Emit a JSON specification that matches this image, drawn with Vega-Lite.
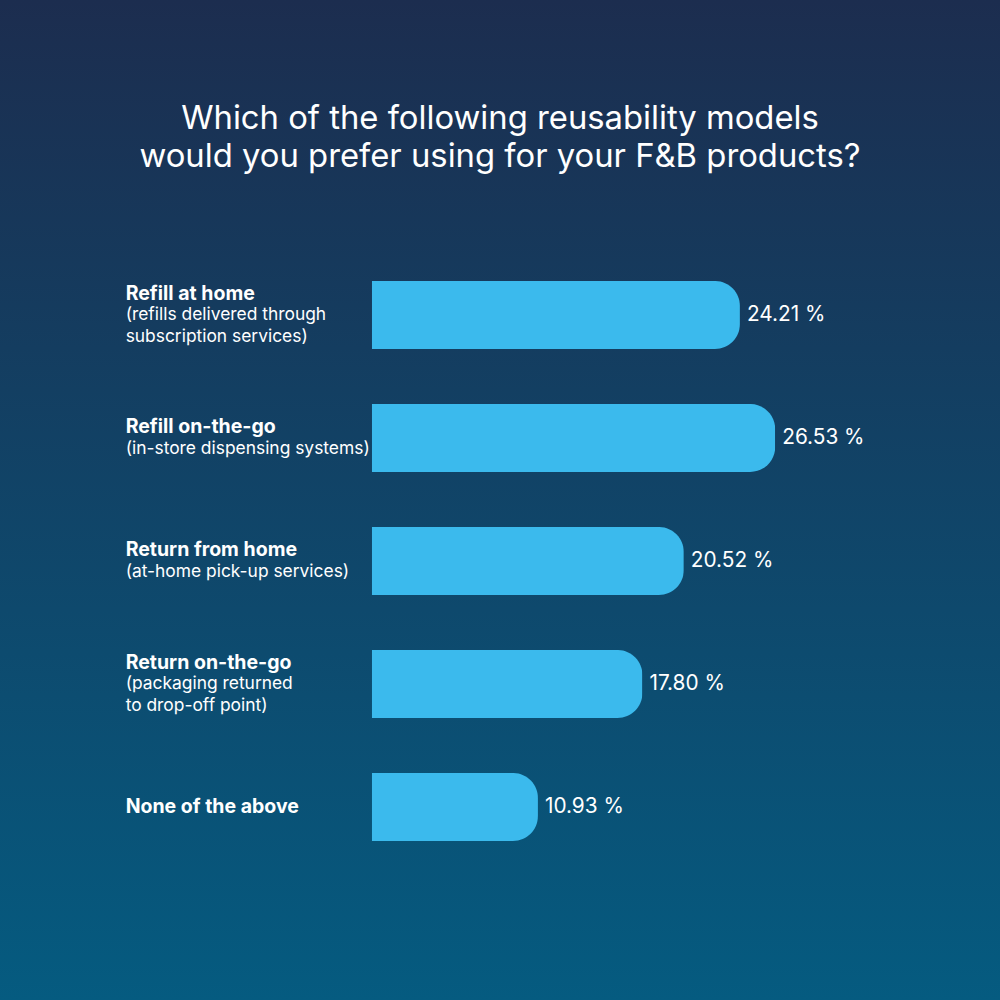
{
  "$schema": "https://vega.github.io/schema/vega-lite/v6.json",
  "width": 1000,
  "height": 1000,
  "padding": 0,
  "autosize": {"type": "none"},
  "background": "#1c2e50",
  "title": {
    "text": ["Which of the following reusability models", "would you prefer using for your F&B products?"],
    "anchor": "middle",
    "frame": "group",
    "orient": "top",
    "baseline": "alphabetic",
    "offset": -200,
    "fontSize": 32.8,
    "lineHeight": 38,
    "font": "Inter",
    "fontWeight": 400,
    "color": "#ffffff"
  },
  "config": {
    "view": {
      "stroke": null,
      "fill": {
        "gradient": "linear",
        "x1": 0, "y1": 0, "x2": 0, "y2": 1,
        "stops": [
          {"offset": 0, "color": "#1c2d4f"},
          {"offset": 1, "color": "#055b80"}
        ]
      }
    },
    "text": {"font": "Inter", "color": "#ffffff", "align": "left", "baseline": "middle", "lineHeight": 21.5}
  },
  "data": {
    "values": [
      {"model": "Refill at home", "line2": "(refills delivered through", "line3": "subscription services)", "share": 24.21},
      {"model": "Refill on-the-go", "line2": "(in-store dispensing systems)", "line3": "", "share": 26.53},
      {"model": "Return from home", "line2": "(at-home pick-up services)", "line3": "", "share": 20.52},
      {"model": "Return on-the-go", "line2": "(packaging returned", "line3": "to drop-off point)", "share": 17.80},
      {"model": "None of the above", "line2": "", "line3": "", "share": 10.93}
    ]
  },
  "transform": [
    {"calculate": "datum.line3 ? 3 : datum.line2 ? 2 : 1", "as": "nLines"},
    {"calculate": "datum.line3 ? [datum.line2, datum.line3] : datum.line2", "as": "plainText"},
    {"calculate": "format(datum.share, '.2f') + ' %'", "as": "shareLabel"}
  ],
  "encoding": {
    "y": {
      "field": "model",
      "type": "nominal",
      "sort": null,
      "axis": null,
      "scale": {"range": [253.5, 868.5], "paddingInner": 0.447, "paddingOuter": 0.2235}
    }
  },
  "layer": [
    {
      "mark": {"type": "bar", "color": "#3bbaed", "cornerRadiusEnd": 25},
      "encoding": {
        "x": {
          "field": "share",
          "type": "quantitative",
          "axis": null,
          "scale": {"domain": [-24.44, 41.31], "nice": false, "zero": false}
        }
      }
    },
    {
      "mark": {"type": "text", "dx": 7, "fontSize": 20.8},
      "encoding": {
        "x": {"field": "share", "type": "quantitative"},
        "text": {"field": "shareLabel"}
      }
    },
    {
      "transform": [{"filter": "datum.nLines == 3"}],
      "mark": {"type": "text", "dy": -21.5, "fontSize": 19.5, "fontWeight": 700},
      "encoding": {
        "x": {"datum": -16.18, "type": "quantitative"},
        "text": {"field": "model"}
      }
    },
    {
      "transform": [{"filter": "datum.nLines == 2"}],
      "mark": {"type": "text", "dy": -10.75, "fontSize": 19.5, "fontWeight": 700},
      "encoding": {
        "x": {"datum": -16.18, "type": "quantitative"},
        "text": {"field": "model"}
      }
    },
    {
      "transform": [{"filter": "datum.nLines == 1"}],
      "mark": {"type": "text", "fontSize": 19.5, "fontWeight": 700},
      "encoding": {
        "x": {"datum": -16.18, "type": "quantitative"},
        "text": {"field": "model"}
      }
    },
    {
      "transform": [{"filter": "datum.nLines == 3"}],
      "mark": {"type": "text", "fontSize": 17.4},
      "encoding": {
        "x": {"datum": -16.18, "type": "quantitative"},
        "text": {"field": "plainText"}
      }
    },
    {
      "transform": [{"filter": "datum.nLines == 2"}],
      "mark": {"type": "text", "dy": 10.75, "fontSize": 17.4},
      "encoding": {
        "x": {"datum": -16.18, "type": "quantitative"},
        "text": {"field": "plainText"}
      }
    }
  ]
}
